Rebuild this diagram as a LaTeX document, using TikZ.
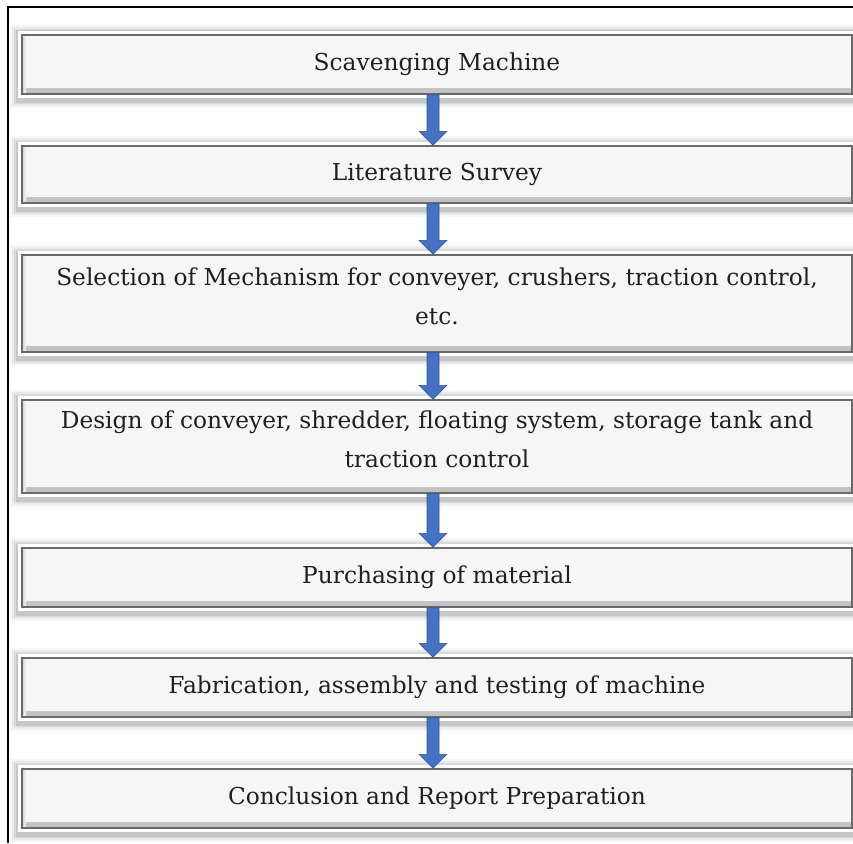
\documentclass[tikz,border=0pt]{standalone}
\usepackage{fontspec}
\setmainfont{DejaVu Serif}
\usetikzlibrary{calc}
\definecolor{boxfill}{HTML}{F6F6F6}
\definecolor{boxline}{HTML}{6A6A6A}
\definecolor{arrblue}{HTML}{4472C4}
\definecolor{arrdark}{HTML}{2F5597}
\newcommand{\twolines}[2]{\raisebox{6pt}[\height][\depth]{\begin{tabular}{@{}c@{}}#1\\#2\end{tabular}}}
\tikzset{
  stepbox/.style={
    rectangle, minimum width=830pt, inner sep=0pt, align=center,
    fill=boxfill, draw=boxline, line width=1.4pt,
    font=\fontsize{23.3}{39}\selectfont, text=black!88,
    preaction={draw=black, line width=24pt, opacity=0.03, transform canvas={yshift=-2pt}},
    preaction={draw=black, line width=20pt, opacity=0.05, transform canvas={yshift=-2pt}},
    preaction={draw=black, line width=16pt, opacity=0.07, transform canvas={yshift=-2pt}},
    preaction={draw=black, line width=13pt, opacity=0.08, transform canvas={yshift=-2pt}},
    preaction={draw=white, line width=8pt},
    path picture={
      \shade[top color=boxfill, bottom color=black!25]
        ([yshift=6pt]path picture bounding box.south west) rectangle (path picture bounding box.south east);
      \shade[left color=black!18, right color=boxfill]
        (path picture bounding box.south west) rectangle ([xshift=4pt]path picture bounding box.north west);
    }
  },
  flowarrow/.style={
    draw=arrdark, fill=arrblue, line width=0.6pt, line join=miter
  }
}
\newcommand{\fatarrow}[2]{%
  \path let \p1=(#1.south), \p2=(#2.north) in
    [flowarrow] (433pt-6pt,\y1) -- (433pt+6pt,\y1) -- (433pt+6pt,\y2+14pt) -- (433pt+14pt,\y2+14pt)
    -- (433pt,\y2) -- (433pt-14pt,\y2+14pt) -- (433pt-6pt,\y2+14pt) -- cycle;}
\begin{document}
\begin{tikzpicture}[x=1pt,y=-1pt]
  \useasboundingbox (0,0) rectangle (853,843);
  \fill[white] (0,0) rectangle (853,843);
  \draw[black, line width=1.2pt] (8,843) -- (8,7) -- (853,7);
  \node[stepbox, minimum height=59pt] (b1) at (437,64.5) {Scavenging Machine};
  \node[stepbox, minimum height=57pt] (b2) at (437,174.5) {Literature Survey};
  \node[stepbox, minimum height=97pt] (b3) at (437,303.5) {\twolines{Selection of Mechanism for conveyer, crushers, traction control,}{etc.}};
  \node[stepbox, minimum height=93pt] (b4) at (437,446.5) {\twolines{Design of conveyer, shredder, floating system, storage tank and}{traction control}};
  \node[stepbox, minimum height=59pt] (b5) at (437,577.5) {Purchasing of material};
  \node[stepbox, minimum height=59pt] (b6) at (437,687.5) {Fabrication, assembly and testing of machine};
  \node[stepbox, minimum height=59pt] (b7) at (437,798.5) {Conclusion and Report Preparation};
  \fatarrow{b1}{b2}
  \fatarrow{b2}{b3}
  \fatarrow{b3}{b4}
  \fatarrow{b4}{b5}
  \fatarrow{b5}{b6}
  \fatarrow{b6}{b7}
\end{tikzpicture}
\end{document}
